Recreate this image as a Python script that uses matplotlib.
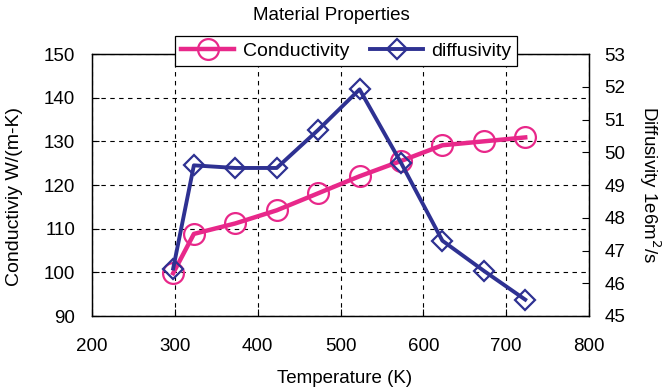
import matplotlib
matplotlib.use("Agg")
import matplotlib.pyplot as plt

plt.rcParams["font.family"] = ["Liberation Sans", "DejaVu Sans"]

temperature = [298, 323, 373, 423, 473, 523, 573, 623, 673, 723]
conductivity = [99.8, 108.8, 111.2, 114.2, 118.1, 122.0, 125.5, 129.1, 130.0, 130.9]
diffusivity = [46.45, 49.6, 49.52, 49.52, 50.68, 51.92, 49.68, 47.3, 46.38, 45.5]

pink = "#E8288A"
navy = "#2E3192"

fig = plt.figure(figsize=(6.7, 3.92), dpi=100)
ax = fig.add_axes([92 / 670, 1 - 316 / 392, 497 / 670, 262 / 392])
ax2 = ax.twinx()

l1, = ax.plot(temperature, conductivity, color=pink, lw=3.2,
              marker="o", ms=15, mfc="none", mec=pink, mew=1.6,
              label="Conductivity", zorder=3)
l2, = ax2.plot(temperature, diffusivity, color=navy, lw=2.8,
               marker="D", ms=10, mfc="none", mec=navy, mew=1.6,
               label="diffusivity", zorder=3)

ax.set_xlim(200, 800)
ax.set_ylim(90, 150)
ax2.set_ylim(45, 53)
ax.set_xticks(range(200, 801, 100))
ax.set_yticks(range(90, 151, 10))
ax2.set_yticks(range(45, 54, 1))

ax.grid(True, color="black", ls=(0, (4, 4)), lw=0.8)
ax.tick_params(direction="in", labelsize=13.5, length=5)
ax.tick_params(axis="x", pad=16)
ax.tick_params(axis="y", pad=12)
ax2.tick_params(direction="in", labelsize=13.5, length=5, pad=11)
for a in (ax, ax2):
    for s in a.spines.values():
        s.set_linewidth(0.9)

ax.set_xlabel("Temperature (K)", fontsize=13.5)
ax.xaxis.set_label_coords(0.509, -0.205)
ax.set_ylabel("Conductiviy W/(m-K)", fontsize=14)
ax.yaxis.set_label_coords(-0.139, 0.456)
ax2.set_ylabel("Diffusivity 1e6m$^2$/s", fontsize=13.5, rotation=270, va="center")
ax2.yaxis.set_label_coords(1.123, 0.5)

fig.text(0.495, 0.949, "Material Properties", ha="center", va="baseline", fontsize=13.5)

leg = ax2.legend([l1, l2], ["Conductivity", "diffusivity"], ncol=2,
                 loc="center", bbox_to_anchor=(0.512, 1.011), fontsize=14,
                 fancybox=False, framealpha=1, edgecolor="black",
                 handlelength=2.7, columnspacing=1.1, handletextpad=0.45,
                 borderpad=0.3)
leg.get_frame().set_linewidth(0.9)

fig.savefig("out.png", dpi=100)
